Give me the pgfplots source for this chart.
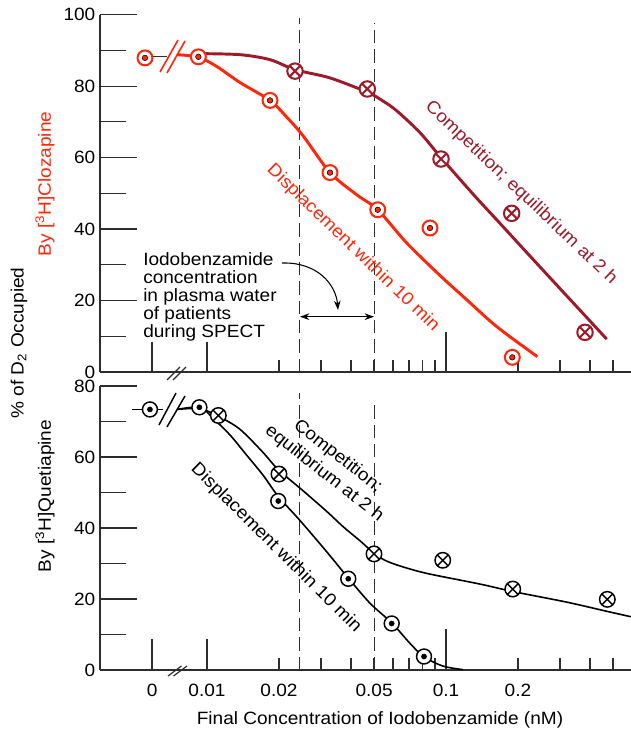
\documentclass[border=0pt]{standalone}
\usepackage{fontspec}
\setmainfont{Liberation Sans}[FakeStretch=1.07]
\usepackage{pgfplots}
\usepackage{pgfplotstable}
\pgfplotsset{compat=1.18}
\usetikzlibrary{arrows.meta,plotmarks}

\definecolor{cred}{RGB}{255,38,10}
\definecolor{cdark}{RGB}{158,26,40}
\definecolor{axgray}{RGB}{45,45,45}
\newcommand\lbl{\fontsize{13.35}{13.65}\selectfont}

% top panel, [3H]clozapine
\pgfplotstableread{
x y
0.0055 87.9
0.0092 88.2
0.01835 76.0
0.0327 55.8
0.0518 45.4
0.0857 40.3
0.1894 4.1
}\clozdisp
\pgfplotstableread{
x y
0.02334 84.2
0.04685 79.2
0.0953 59.6
0.1883 44.4
0.3816 11.1
}\clozcomp
% bottom panel, [3H]quetiapine
\pgfplotstableread{
x y
0.00577 73.4
0.00929 74.0
0.01987 47.6
0.0390 25.7
0.05925 13.1
0.0809 3.8
}\quetdisp
\pgfplotstableread{
x y
0.01115 71.7
0.0200 55.2
0.04996 32.7
0.0969 30.9
0.1902 22.8
0.473 19.9
}\quetcomp

\tikzset{
  tk/.style={line width=0.9pt, draw=axgray},
  dl/.style={dash pattern=on 10pt off 4.5pt, line width=0.9pt, draw=axgray},
  xl/.style={anchor=north, inner sep=0pt, yshift=-10.5pt, font=\lbl},
}

\begin{document}
\begin{tikzpicture}[x=0.75pt,y=0.75pt]
\useasboundingbox (0,0) rectangle (631,731);

% ---------- top ----------
\begin{axis}[at={(75pt,269.25pt)}, anchor=south west,
  scale only axis, width=398.25pt, height=268pt, clip=false,
  xmode=log, xmin=0.003566, xmax=0.5943, ymin=0, ymax=100,
  axis x line*=bottom, axis y line*=left,
  axis line style={-, line width=1pt, draw=axgray},
  xtick=\empty, xminorticks=false,
  ytick={0,20,...,100}, minor y tick num=1, tick align=inside,
  major tick length=27.5pt, minor tick length=19.5pt,
  tick style={line width=0.9pt, draw=axgray},
  yticklabel style={font=\lbl},
  /pgf/number format/assume math mode=true]
\pgfplotsinvokeforeach{0.02,0.03,0.04,0.05,0.06,0.07,0.08,0.09,0.2,0.3,0.4,0.5}{
  \draw[tk] (axis cs:#1,0) -- ++(0pt,9pt);}
\pgfplotsinvokeforeach{0.00589,0.01}{\draw[tk] (axis cs:#1,0) -- ++(0pt,22.5pt);}
\draw[tk] (axis cs:0.1,0) -- ++(0pt,30pt);
\draw[dl] (axis cs:0.0243,0) -- (axis cs:0.0243,99.2);
\draw[dl] (axis cs:0.0502,0) -- (axis cs:0.0502,97.8);

\addplot[cdark, line width=2.2pt, smooth, tension=0.5] coordinates {
  (0.0092,89.1)(0.01374,88.8)(0.01835,87.4)(0.02334,84.6)(0.0327,82.3)
  (0.04685,78.3)(0.054,76.0)(0.0622,73.1)(0.0778,67.0)(0.0953,60.0)
  (0.1301,49.7)(0.1682,41.6)(0.2473,29.4)(0.34,19.4)(0.4703,9.2)};
\addplot[cred, line width=2.2pt, smooth, tension=0.5] coordinates {
  (0.00747,88.8)(0.0092,88.1)(0.01098,85.5)(0.01374,81.0)(0.01835,76.0)
  (0.02156,71.3)(0.02529,66.0)(0.0327,55.8)(0.04229,49.6)(0.0518,45.4)
  (0.06848,36.1)(0.09439,27.0)(0.1181,21.1)(0.163,12.7)(0.241,4.3)};
\addplot[axgray, line width=0.8pt] coordinates {(0.0055,88.2)(0.0068,88.2)};

\addplot[only marks, mark=*, mark size=5.6pt,
  mark options={draw=cred, fill=white, line width=1.5pt}] table {\clozdisp};
\addplot[only marks, mark=*, mark size=2.1pt,
  mark options={draw=none, fill=cred}] table {\clozdisp};
\addplot[only marks, mark=otimes*, mark size=5.8pt,
  mark options={draw=cdark, fill=white, line width=1.5pt}] table {\clozcomp};
\end{axis}

% ---------- bottom ----------
\begin{axis}[at={(75pt,45.75pt)}, anchor=south west,
  scale only axis, width=398.25pt, height=213pt, clip=false,
  xmode=log, xmin=0.003566, xmax=0.5943, ymin=0, ymax=80,
  axis x line*=bottom, axis y line*=left,
  axis line style={-, line width=1pt, draw=axgray},
  xtick=\empty, xminorticks=false,
  ytick={0,20,...,80}, minor y tick num=1, tick align=inside,
  major tick length=27.5pt, minor tick length=19.5pt,
  tick style={line width=0.9pt, draw=axgray},
  yticklabel style={font=\lbl},
  /pgf/number format/assume math mode=true]
\pgfplotsinvokeforeach{0.02,0.03,0.04,0.05,0.06,0.07,0.08,0.09,0.2,0.3,0.4,0.5}{
  \draw[tk] (axis cs:#1,0) -- ++(0pt,9pt);}
\pgfplotsinvokeforeach{0.00589,0.01}{\draw[tk] (axis cs:#1,0) -- ++(0pt,23pt);}
\draw[tk] (axis cs:0.1,0) -- ++(0pt,31pt);
\draw[dl] (axis cs:0.0243,0) -- (axis cs:0.0243,78);
\draw[dl] (axis cs:0.0502,0) -- (axis cs:0.0502,76);
\node[xl] at (axis cs:0.00589,0) {0};
\node[xl] at (axis cs:0.01,0) {0.01};
\node[xl] at (axis cs:0.02,0) {0.02};
\node[xl] at (axis cs:0.05,0) {0.05};
\node[xl] at (axis cs:0.1,0) {0.1};
\node[xl] at (axis cs:0.2,0) {0.2};

\addplot[black, line width=1.2pt, smooth, tension=0.5] coordinates {
  (0.00749,73.4)(0.00935,73.6)(0.01122,71.4)(0.01374,67.8)(0.01715,61.3)
  (0.01982,56.5)(0.02522,50.5)(0.03178,44.6)(0.03707,40.4)(0.04366,36.4)
  (0.04996,32.9)(0.05556,30.9)(0.06421,29.3)(0.08326,27.2)(0.1388,24.2)
  (0.1907,22.1)(0.3209,19.1)(0.473,16.5)(0.5943,15.0)};
\addplot[black, line width=1.2pt, smooth, tension=0.5] coordinates {
  (0.00749,73.4)(0.00935,74.0)(0.0106,70.9)(0.01248,66.2)(0.0147,60.4)
  (0.01715,54.9)(0.01987,48.9)(0.0245,42.1)(0.03178,33.2)(0.0389,26.0)
  (0.0481,18.8)(0.05942,13.2)(0.07068,7.5)(0.08091,3.7)(0.09714,1.1)
  (0.1178,0.1)};
\addplot[black, line width=1.1pt] coordinates {(0.00486,73.4)(0.00655,73.4)};

\addplot[only marks, mark=*, mark size=5.6pt,
  mark options={draw=black, fill=white, line width=1.1pt}] table {\quetdisp};
\addplot[only marks, mark=*, mark size=1.9pt,
  mark options={draw=none, fill=black}] table {\quetdisp};
\addplot[only marks, mark=otimes*, mark size=5.8pt,
  mark options={draw=black, fill=white, line width=1.1pt}] table {\quetcomp};
\end{axis}

% axis and curve breaks
\draw[cred, line width=1.2pt] (160,{731-72}) -- (178,{731-40});
\draw[cred, line width=1.2pt] (167,{731-73}) -- (185,{731-41});
\draw[black, line width=1.1pt] (159,{731-425}) -- (176,{731-393});
\draw[black, line width=1.1pt] (167,{731-427}) -- (185,{731-396});
\draw[tk] (167,{731-380}) -- (180,{731-367});
\draw[tk] (173,{731-380}) -- (186,{731-367});
\draw[tk] (168,{731-676}) -- (181.5,{731-666});
\draw[tk] (173.5,{731-676}) -- (187,{731-666});

% annotation
\node[anchor=north west, inner sep=0pt, align=left, font=\lbl] at (143,{731-252})
  {Iodobenzamide\\concentration\\in plasma water\\of patients\\during SPECT};
\draw[-{Stealth[length=7pt,width=5pt]}, line width=0.8pt]
  (282,{731-263}) .. controls (318,{731-262}) and (336,{731-285}) .. (338,{731-310});
\draw[{Stealth[length=7pt,width=5pt]}-{Stealth[length=7pt,width=5pt]}, line width=0.8pt]
  (300,{731-316.7}) -- (374,{731-316.7});

% curve labels
\node[cred, rotate=-44, font=\lbl] at (353,{731-248}) {Displacement within 10 min};
\node[cdark, rotate=-43.5, font=\lbl] at (521,{731-193}) {Competition; equilibrium at 2 h};
\node[rotate=-38, align=center, font=\fontsize{13.35}{16.5}\selectfont] at (331,{731-465})
  {Competition;\\equilibrium at 2 h};
\node[rotate=-44.7, font=\lbl] at (276,{731-548}) {Displacement within 10 min};

% axis titles
\node[rotate=90, font=\lbl] at (19,{731-343}) {\% of D\textsubscript{2} Occupied};
\node[rotate=90, font=\lbl, text=cred] at (45,{731-184}) {By [\textsuperscript{3}H]Clozapine};
\node[rotate=90, font=\lbl] at (45,{731-496}) {By [\textsuperscript{3}H]Quetiapine};
\node[font=\lbl] at (380,{731-720}) {Final Concentration of Iodobenzamide (nM)};
\end{tikzpicture}
\end{document}
